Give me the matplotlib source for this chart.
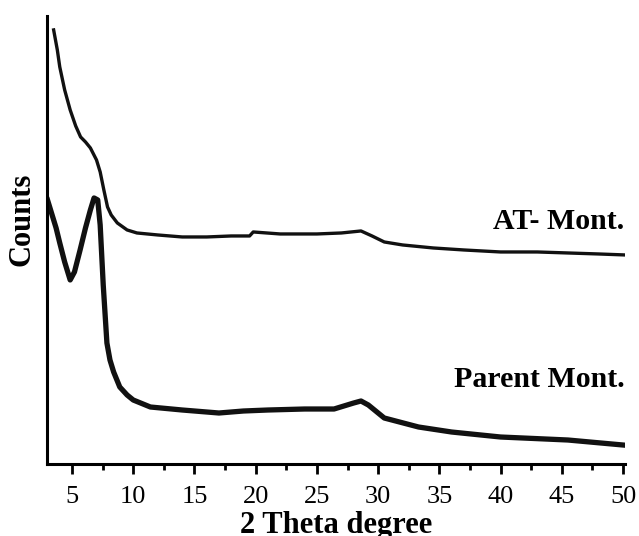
import numpy as np
import matplotlib
matplotlib.use("Agg")
import matplotlib.pyplot as plt
from matplotlib.ticker import MultipleLocator

plt.rcParams['font.family'] = ['Liberation Serif', 'DejaVu Serif']

# AT- Mont. trace (2 theta, counts in arbitrary units)
at_x = [3.5, 3.8, 4.0, 4.4, 4.85, 5.3, 5.7, 6.1, 6.5, 7.0, 7.3, 7.6, 7.9, 8.2,
        8.7, 9.5, 10.3, 12, 14, 16, 18, 19.5, 19.8, 22, 25, 27, 28.6, 29.5,
        30.5, 32, 34.5, 37, 40, 43, 45.5, 48, 50.2]
at_y = [434, 414, 397, 374, 354, 338, 327, 322, 316, 304, 292, 274, 257, 249,
        241, 234, 231, 229, 227, 227, 228, 228, 232, 230, 230, 231, 233, 228,
        222, 219, 216, 214, 212, 212, 211, 210, 209]

# Parent Mont. trace
pm_x = [3.0, 3.3, 3.7, 4.0, 4.4, 4.85, 5.2, 5.66, 6.1, 6.5, 6.8, 7.1, 7.3,
        7.55, 7.85, 8.1, 8.4, 8.9, 9.5, 10, 11.4, 14, 17, 19, 21, 24, 26.4,
        28, 28.6, 29.2, 30.5, 33.3, 36, 40, 45.5, 50]
pm_y = [264, 252, 236, 221, 202, 184, 192, 214, 236, 254, 266, 264, 239,
        179, 121, 104, 92, 77, 69, 64, 57, 54, 51, 53, 54, 55, 55,
        61, 63, 59, 46, 37, 32, 27, 24, 19]

fig = plt.figure(figsize=(6.39, 5.36), dpi=100)
ax = fig.add_axes([0.0736, 0.1343, 0.9045, 0.836])

ax.plot(at_x, at_y, color='#111111', lw=2.4)
ax.plot(pm_x, pm_y, color='#111111', lw=3.8)

ax.set_xlim(2.96, 50.16)
ax.set_ylim(0, 448)

for s in ['top', 'right']:
    ax.spines[s].set_visible(False)
for s in ['left', 'bottom']:
    ax.spines[s].set_linewidth(2.2)

ax.xaxis.set_major_locator(MultipleLocator(5))
ax.xaxis.set_minor_locator(MultipleLocator(2.5))
ax.tick_params(axis='x', which='major', direction='out', length=7, width=2,
               labelsize=19, pad=9)
ax.tick_params(axis='x', which='minor', direction='out', length=4, width=2)
ax.set_yticks([])

ax.set_xlabel('2 Theta degree', fontsize=22, fontweight='bold')
ax.xaxis.set_label_coords(0.5, -0.105)
ax.set_ylabel('Counts', fontsize=22, fontweight='bold', va='center')
ax.yaxis.set_label_coords(-0.043, 0.545)

ax.text(50.1, 242, 'AT- Mont.', fontsize=21.5, fontweight='bold',
        ha='right', va='center')
ax.text(50.1, 84, 'Parent Mont.', fontsize=21.5, fontweight='bold',
        ha='right', va='center')

fig.savefig('out.png', dpi=100)
